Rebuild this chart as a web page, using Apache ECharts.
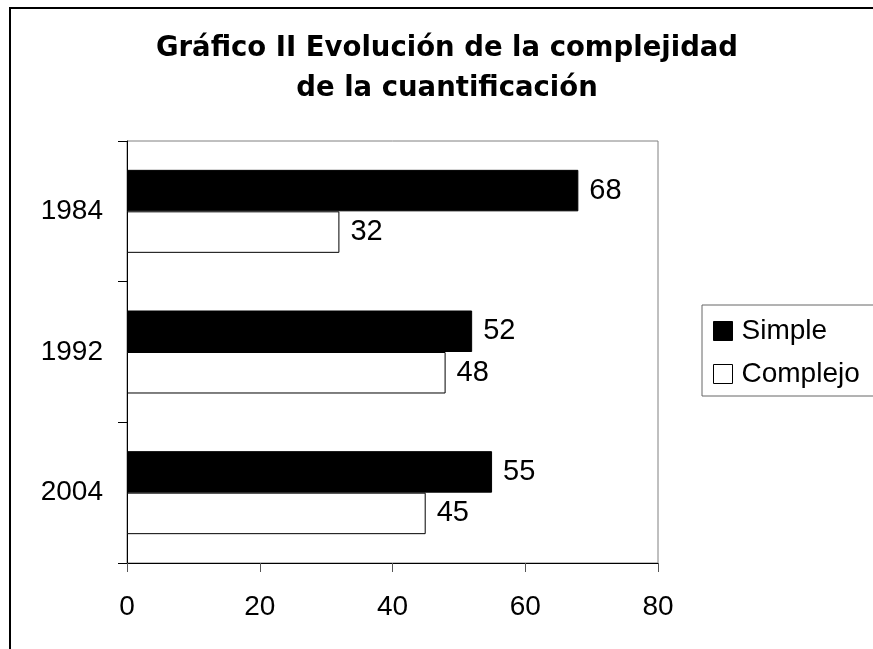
<!DOCTYPE html>
<html>
<head>
<meta charset="utf-8">
<title>Gráfico II</title>
<script src="https://cdn.jsdelivr.net/npm/echarts@6/dist/echarts.min.js"></script>
<style>
  html, body { margin: 0; padding: 0; background: #fff; }
  #chart { width: 873px; height: 649px; }
</style>
</head>
<body>
<div id="chart"></div>
<script>
// data
const years = ["1984", "1992", "2004"];
const simple = [68, 52, 55];
const complejo = [32, 48, 45];
const xTicks = { min: 0, max: 80, interval: 20 };

const font = "'Liberation Sans', Arial, sans-serif";

const chart = echarts.init(document.getElementById("chart"));

chart.setOption({
  backgroundColor: "#fff",
  animation: false,
  title: {
    text: "Gráfico II Evolución de la complejidad\nde la cuantificación",
    left: 447,
    top: 29,
    padding: 0,
    textAlign: "center",
    textStyle: {
      fontFamily: "'DejaVu Sans', sans-serif",
      fontWeight: "bold",
      fontSize: 27.5,
      lineHeight: 40,
      color: "#000",
    },
  },
  legend: {
    orient: "vertical",
    left: 702,
    top: 305,
    padding: [11, 20, 7, 11],
    itemGap: 13,
    itemWidth: 19,
    itemHeight: 19,
    icon: "rect",
    borderColor: "#666",
    borderWidth: 1,
    textStyle: {
      fontFamily: font,
      fontSize: 28,
      lineHeight: 30,
      color: "#000",
      padding: [0, 0, 0, 4],
    },
    data: [
      { name: "Simple", itemStyle: { color: "#000", borderColor: "#000", borderWidth: 1 } },
      { name: "Complejo", itemStyle: { color: "#fff", borderColor: "#000", borderWidth: 1 } },
    ],
  },
  grid: {
    left: 127,
    right: 215,
    top: 141,
    bottom: 86,
    show: true,
    borderColor: "#808080",
    borderWidth: 1,
    backgroundColor: "#fff",
  },
  xAxis: {
    type: "value",
    min: xTicks.min,
    max: xTicks.max,
    interval: xTicks.interval,
    splitLine: { show: false },
    axisLine: { show: true, lineStyle: { color: "#000", width: 1 } },
    axisTick: { show: true, length: 9, lineStyle: { color: "#555" } },
    axisLabel: { fontFamily: font, fontSize: 28, color: "#000", margin: 30 },
  },
  yAxis: {
    type: "category",
    inverse: true,
    data: years,
    axisLine: { show: true, lineStyle: { color: "#000", width: 1 } },
    axisTick: { show: true, length: 9, lineStyle: { color: "#000" } },
    axisLabel: { fontFamily: font, fontSize: 28, color: "#000", margin: 24 },
  },
  series: [
    {
      name: "Simple",
      type: "bar",
      data: simple,
      barGap: "0%",
      barCategoryGap: "41%",
      itemStyle: { color: "#000", borderColor: "#000", borderWidth: 1 },
      label: {
        show: true,
        position: "right",
        distance: 11,
        fontFamily: font,
        fontSize: 29,
        color: "#000",
      },
    },
    {
      name: "Complejo",
      type: "bar",
      data: complejo,
      itemStyle: { color: "#fff", borderColor: "#000", borderWidth: 1 },
      label: {
        show: true,
        position: "right",
        distance: 11,
        fontFamily: font,
        fontSize: 29,
        color: "#000",
      },
    },
  ],
  // outer frame of the picture (top and left edges only)
  graphic: [
    {
      type: "polyline",
      silent: true,
      shape: { points: [[10, 649], [10, 8], [873, 8]] },
      style: { stroke: "#000", lineWidth: 2, fill: null },
    },
  ],
});
</script>
</body>
</html>
